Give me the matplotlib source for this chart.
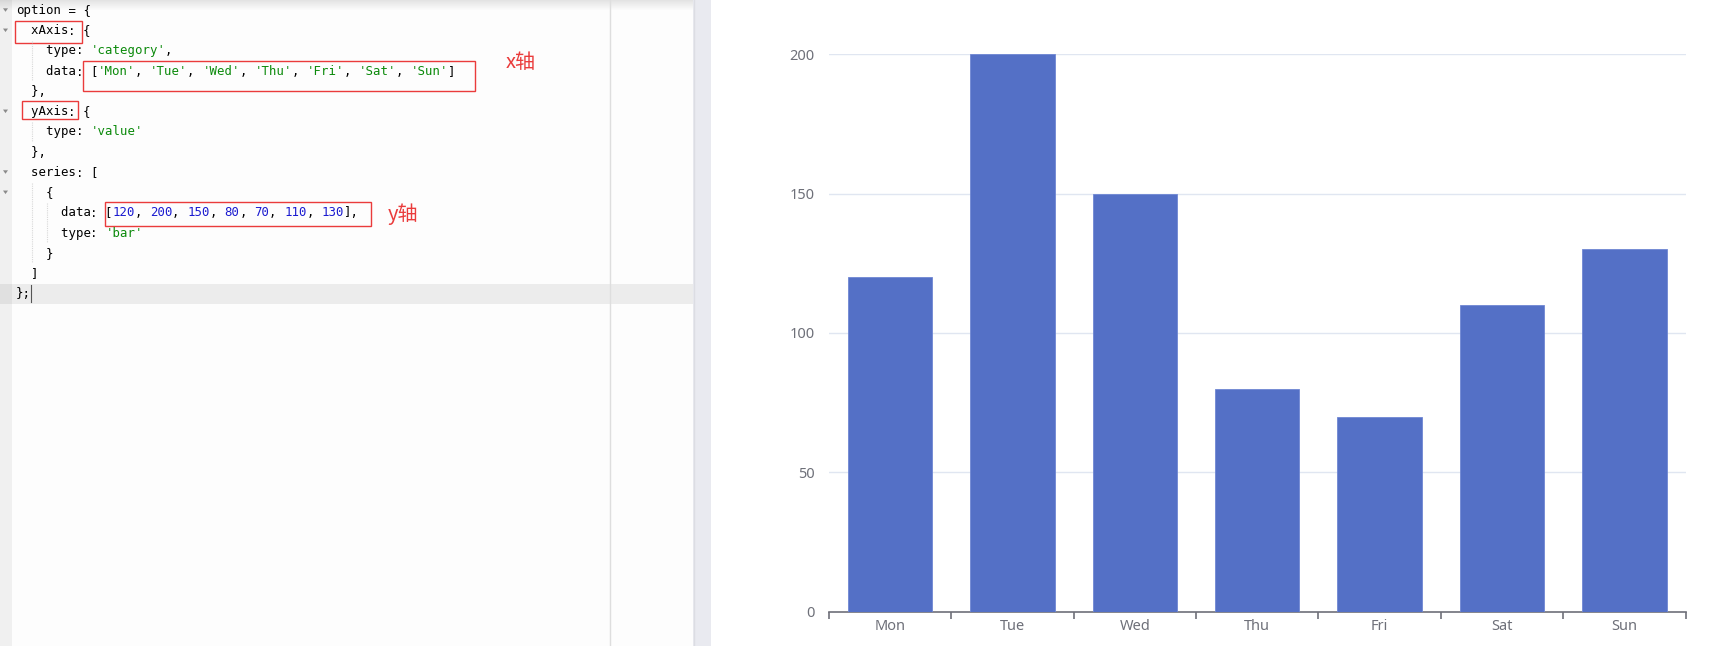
import matplotlib
matplotlib.use("Agg")
import matplotlib.pyplot as plt
import numpy as np
from matplotlib.patches import Rectangle, Polygon

# ---- data ----
categories = ['Mon', 'Tue', 'Wed', 'Thu', 'Fri', 'Sat', 'Sun']
values = [120, 200, 150, 80, 70, 110, 130]
y_ticks = [0, 50, 100, 150, 200]

W, H = 1728, 646
fig = plt.figure(figsize=(W / 100, H / 100), dpi=100)
fig.patch.set_facecolor('white')

# ---- editor pane (pixel coordinates) ----
ed = fig.add_axes([0, 0, 1, 1])
ed.set_xlim(0, W)
ed.set_ylim(H, 0)
ed.axis('off')
ed.set_zorder(0)

ed.add_patch(Rectangle((0, 0), 693, H, color='#fdfdfd', lw=0))
ed.add_patch(Rectangle((0, 0), 12, H, color='#f0f0f0', lw=0))
# top shadow
for i in range(10):
    a = 0.10 * (1 - i / 10)
    ed.add_patch(Rectangle((0, i), 693, 1, color='black', alpha=a, lw=0))
# current line highlight
ed.add_patch(Rectangle((12, 284), 681, 19.5, color='#ececec', lw=0))
ed.add_patch(Rectangle((0, 284), 12, 19.5, color='#e0e0e0', lw=0))
# print margin line
ed.plot([609.5, 609.5], [0, H], color='#dedede', lw=1)
# splitter strip
ed.add_patch(Rectangle((693, 0), 18, H, color='#e9eaf0', lw=0))
ed.plot([693.5, 693.5], [0, H], color='#dcdde3', lw=1)

KW, ST, NU, PU = '#000000', '#0b8a0b', '#1a1ad0', '#000000'
cat_tokens = []
for i, c in enumerate(categories):
    cat_tokens.append((f"'{c}'", ST))
    if i < len(categories) - 1:
        cat_tokens.append((', ', PU))
val_tokens = []
for i, v in enumerate(values):
    val_tokens.append((str(v), NU))
    if i < len(values) - 1:
        val_tokens.append((', ', PU))

lines = [
    [('option', KW), (' = {', PU)],
    [('  xAxis', KW), (': {', PU)],
    [('    type', KW), (': ', PU), ("'category'", ST), (',', PU)],
    [('    data', KW), (': [', PU)] + cat_tokens + [(']', PU)],
    [('  },', PU)],
    [('  yAxis', KW), (': {', PU)],
    [('    type', KW), (': ', PU), ("'value'", ST)],
    [('  },', PU)],
    [('  series', KW), (': [', PU)],
    [('    {', PU)],
    [('      data', KW), (': [', PU)] + val_tokens + [('],', PU)],
    [('      type', KW), (': ', PU), ("'bar'", ST)],
    [('    }', PU)],
    [('  ]', PU)],
    [('};', PU)],
]
x0, cw, y0, lh = 16, 7.45, 10.3, 20.25
mono = 'DejaVu Sans Mono'
fs_mono = cw / 0.602 * 72 / 100
for li, toks in enumerate(lines):
    col = 0
    y = y0 + lh * li
    for txt, colr in toks:
        ed.text(x0 + col * cw, y, txt, color=colr, family=mono, fontsize=fs_mono,
                ha='left', va='center')
        col += len(txt)

# fold markers
for li in [0, 1, 5, 8, 9]:
    y = y0 + lh * li
    ed.add_patch(Polygon([[3, y - 2], [8, y - 2], [5.5, y + 1.5]], closed=True,
                         color='#8a8a8a', lw=0))

# indent guides
def guide(x, l0, l1):
    ed.plot([x, x], [y0 + lh * l0 - 10, y0 + lh * l1 + 10], color='#d8d8d8',
            lw=0.8, ls=(0, (1, 1)))
guide(31.5, 2, 3)
guide(31.5, 6, 6)
guide(31.5, 9, 12)
guide(46.5, 10, 11)

# cursor
ed.plot([31, 31], [285, 302], color='#555555', lw=0.8)

# annotation boxes
red = '#ea3b3b'
for (x, y, w, h) in [(15, 20.7, 66.7, 22.6), (83.3, 61, 391.7, 30),
                     (21.7, 100.7, 56.6, 18.6), (105, 202.3, 265.7, 23.4)]:
    ed.add_patch(Rectangle((x, y), w, h, fill=False, ec=red, lw=1))
cjk = ['Noto Sans CJK SC', 'DejaVu Sans']
ed.text(506, 62, 'x轴', color=red, family=cjk, fontsize=14.5, ha='left', va='center')
ed.text(388, 214, 'y轴', color=red, family=cjk, fontsize=14.5, ha='left', va='center')

# ---- bar chart ----
left, right = 828.7, 1685.7
bottom, top = 611.7, 54.3
ax = fig.add_axes([left / W, (H - bottom) / H, (right - left) / W, (bottom - top) / H])
ax.set_zorder(1)
ax.set_facecolor('none')
x = np.arange(len(categories))
ax.bar(x, values, width=0.69, color='#5470c6', edgecolor='#6f87d3', lw=0.6, zorder=3)
ax.set_xlim(-0.5, len(categories) - 0.5)
ax.set_ylim(0, 200)
ax.set_yticks(y_ticks)
ax.set_yticklabels([str(t) for t in y_ticks])
for t in y_ticks[1:]:
    ax.axhline(t, color='#e0e6f1', lw=1, zorder=1)
for s in ['top', 'right', 'left']:
    ax.spines[s].set_visible(False)
ax.spines['bottom'].set_color('#6e7079')
ax.spines['bottom'].set_linewidth(1.2)
ax.tick_params(axis='y', length=0, pad=10, labelsize=10.5, labelcolor='#6e7079')
ax.set_xticks(x)
ax.set_xticklabels(categories)
ax.tick_params(axis='x', length=0, pad=5, labelsize=10.5, labelcolor='#6e7079')
ax.set_xticks(np.arange(-0.5, len(categories)), minor=True)
ax.tick_params(axis='x', which='minor', length=5, width=1.2, color='#6e7079')
for lab in ax.get_xticklabels() + ax.get_yticklabels():
    lab.set_family('Noto Sans')

fig.savefig('out.png', dpi=100, facecolor='white')
